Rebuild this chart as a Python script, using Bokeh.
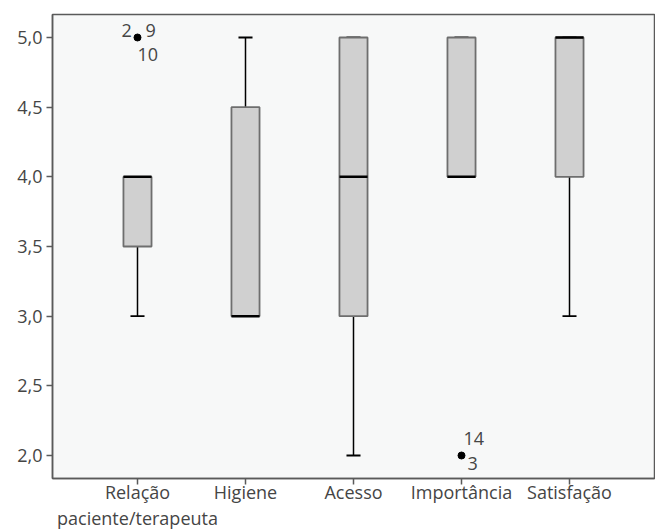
from bokeh.plotting import figure
from bokeh.models import FixedTicker, Range1d, ColumnDataSource
from bokeh.core.properties import value
from bokeh.embed import file_html
from bokeh.resources import INLINE

categories = ["Relação\npaciente/terapeuta", "Higiene", "Acesso", "Importância", "Satisfação"]
q1 = [3.5, 3.0, 3.0, 4.0, 4.0]
median = [4.0, 3.0, 4.0, 4.0, 5.0]
q3 = [4.0, 4.5, 5.0, 5.0, 5.0]
lower = [3.0, 3.0, 2.0, 4.0, 3.0]
upper = [4.0, 5.0, 5.0, 5.0, 5.0]
outlier_cat = [1, 4]
outlier_val = [5.0, 2.0]
outlier_labels = [["2", "9", "10"], ["14", "3"]]
y_ticks = [2.0, 2.5, 3.0, 3.5, 4.0, 4.5, 5.0]

FONT = "Open Sans"
TXT = "#454545"

xs = list(range(1, len(categories) + 1))
bw = 0.26
cw = 0.13

p = figure(frame_width=602, frame_height=464, output_backend="svg", toolbar_location=None,
           x_range=Range1d(0.213, 5.787), y_range=Range1d(1.835, 5.165),
           min_border_top=14, min_border_left=52, min_border_right=1, min_border_bottom=40)
p.border_fill_color = "white"
p.background_fill_color = "#f7f8f8"
p.outline_line_color = "#5a5a5a"
p.outline_line_width = 1.5
p.xgrid.visible = False
p.ygrid.visible = False

src = ColumnDataSource(dict(x=xs, q1=q1, med=median, q3=q3, lo=lower, hi=upper,
                            xl=[x - cw / 2 for x in xs], xr=[x + cw / 2 for x in xs],
                            ml=[x - bw / 2 for x in xs], mr=[x + bw / 2 for x in xs]))

# whiskers
p.segment(x0="x", y0="q3", x1="x", y1="hi", source=src, line_color="black", line_width=1.5)
p.segment(x0="x", y0="q1", x1="x", y1="lo", source=src, line_color="black", line_width=1.5)
p.segment(x0="xl", y0="hi", x1="xr", y1="hi", source=src, line_color="black", line_width=1.8)
p.segment(x0="xl", y0="lo", x1="xr", y1="lo", source=src, line_color="black", line_width=1.8)
# boxes
p.vbar(x="x", width=bw, bottom="q1", top="q3", source=src, fill_color="#d0d0d0",
       line_color="#6e6e6e", line_width=1.8)
# medians
p.segment(x0="ml", y0="med", x1="mr", y1="med", source=src, line_color="black", line_width=2.5)

# outliers
p.scatter(outlier_cat, outlier_val, size=7, color="black")
ox = [outlier_cat[0]] * 3 + [outlier_cat[1]] * 2
oy = [outlier_val[0]] * 3 + [outlier_val[1]] * 2
otext = outlier_labels[0] + outlier_labels[1]
xoff = [-16, 8, 0, 2, 6]
yoff = [-7, -7, 17, -17, 8]
p.text(x=ox, y=oy, text=otext, x_offset=xoff, y_offset=yoff, text_font=value(FONT),
       text_font_size="18px", text_color=TXT, text_baseline="middle", text_align="left")

p.xaxis.ticker = FixedTicker(ticks=xs)
p.xaxis.major_label_overrides = {x: c for x, c in zip(xs, categories)}
p.yaxis.ticker = FixedTicker(ticks=y_ticks)
p.yaxis.major_label_overrides = {t: f"{t:.1f}".replace(".", ",") for t in y_ticks}
for ax in (p.xaxis, p.yaxis):
    ax.major_label_text_font = FONT
    ax.major_label_text_font_size = "18px"
    ax.major_label_text_color = TXT
    ax.axis_line_color = "#5a5a5a"
    ax.axis_line_width = 1.5
    ax.major_tick_line_color = "#5a5a5a"
    ax.major_tick_line_width = 1.5
    ax.major_tick_out = 6
    ax.major_tick_in = 0
    ax.minor_tick_line_color = None
p.xaxis.major_label_standoff = -5
p.xaxis.major_label_text_line_height = 1.1
p.yaxis.major_label_standoff = 4

open("out.html", "w").write(file_html(p, INLINE))
